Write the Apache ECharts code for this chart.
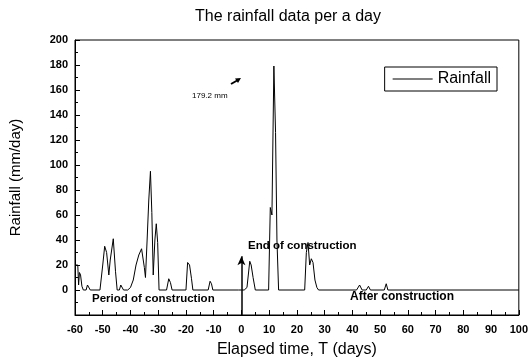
<!DOCTYPE html>
<html>
<head>
<meta charset="utf-8">
<script src="https://cdn.jsdelivr.net/npm/echarts@6/dist/echarts.min.js"></script>
<style>
  html, body { margin: 0; padding: 0; background: #fff; }
  #chart { width: 531px; height: 363px; }
</style>
</head>
<body>
<div id="chart"></div>
<script>
// elapsed time (days) and rainfall (mm/day)
const days = [
  -60, -59, -58.7, -58.4, -58, -57.5, -57, -56, -55.5, -55, -54.5,
  -51, -50, -49.3, -48.6, -47.8, -47.3, -46.2, -45.4, -44.8,
  -44, -43.5, -43, -42.5, -41, -40, -39, -38, -37, -36, -35.6, -35, -34.6,
  -34, -33.4, -32.8, -32.3, -31.8, -31.2, -30.7, -30.2, -29.7,
  -27, -26.2, -25.6, -25, -20, -19.4, -18.7, -18, -17.5,
  -12, -11.3, -10.8, -10.3, -1, 0, 1, 2, 3, 3.5, 4.2, 5, 9.8, 10.4, 11, 11.7, 12.3, 12.8, 13.4,
  22.8, 23.4, 24, 24.6, 25.2, 25.8, 26.5, 27.2, 27.8,
  41.5, 42.6, 43.5, 45, 45.8, 46.5, 51.5, 52.2, 52.8, 100
];
const rainfall = [
  20, 20, 4, 14, 12, 3, 0, 0, 4, 4, 0,
  0, 20, 35, 30, 12, 24, 41, 15, 0,
  0, 4, 5, 0, 0, 2, 8, 20, 28, 33, 34, 18, 10,
  40, 72, 95, 62, 12, 40, 53, 38, 0,
  0, 9, 6, 0, 0, 22, 20, 9, 0,
  0, 7, 5, 0, 0, 0, 0, 2, 23, 20, 10, 0, 0, 66, 60, 179.2, 126, 40, 0,
  0, 30, 38, 20, 25, 22, 8, 2, 0,
  0, 4, 0, 0, 3, 0, 0, 5, 0, 0
];
const xTicks = [-60, -50, -40, -30, -20, -10, 0, 10, 20, 30, 40, 50, 60, 70, 80, 90, 100];
const yTicks = [0, 20, 40, 60, 80, 100, 120, 140, 160, 180, 200];

const font = 'Liberation Sans, Arial, sans-serif';
const chart = echarts.init(document.getElementById('chart'));

chart.setOption({
  animation: false,
  title: {
    text: 'The rainfall data per a day',
    left: 283, top: 4, textAlign: 'center',
    textStyle: { fontFamily: font, fontSize: 16, fontWeight: 'normal', color: '#000' }
  },
  legend: {
    right: 34, top: 67,
    itemWidth: 40, itemHeight: 10, itemGap: 6,
    padding: [4, 6, 4, 8],
    borderColor: '#000', borderWidth: 1,
    icon: 'path://M0,5L40,5L40,6L0,6Z',
    textStyle: { fontFamily: font, fontSize: 16, color: '#000' },
    data: ['Rainfall']
  },
  grid: {
    left: 73, right: 9, top: 40, bottom: 46,
    show: true, borderColor: '#000', borderWidth: 1
  },
  xAxis: {
    type: 'value', min: -60, max: 100, interval: 10,
    name: 'Elapsed time, T (days)', nameLocation: 'middle', nameGap: 27,
    nameTextStyle: { fontFamily: font, fontSize: 16, color: '#000' },
    axisLine: { onZero: false, lineStyle: { color: '#000' } },
    axisTick: { inside: true, length: 5, lineStyle: { color: '#000' } },
    minorTick: { show: true, splitNumber: 2, length: 3, lineStyle: { color: '#000' } },
    splitLine: { show: false },
    axisLabel: {
      fontFamily: font, fontSize: 11, fontWeight: 'bold', color: '#000', margin: 9,
      formatter: v => xTicks.includes(v) ? String(v) : ''
    }
  },
  yAxis: {
    type: 'value', min: -20, max: 200, interval: 20,
    name: 'Rainfall (mm/day)', nameLocation: 'middle', nameGap: 52,
    nameTextStyle: { fontFamily: font, fontSize: 15, color: '#000' },
    axisLine: { show: true, onZero: false, lineStyle: { color: '#000' } },
    axisTick: { inside: true, length: 5, lineStyle: { color: '#000' } },
    minorTick: { show: true, splitNumber: 2, length: 3, lineStyle: { color: '#000' } },
    splitLine: { show: false },
    axisLabel: {
      fontFamily: font, fontSize: 11, fontWeight: 'bold', color: '#000', margin: 7,
      formatter: v => yTicks.includes(v) ? String(v) : ''
    }
  },
  series: [{
    name: 'Rainfall',
    type: 'line',
    data: days.map((d, i) => [d, rainfall[i]]),
    showSymbol: false,
    lineStyle: { color: '#000', width: 1 },
    itemStyle: { color: '#000' },
    markLine: {
      silent: true,
      symbol: ['none', 'arrow'], symbolSize: [6, 9],
      label: { show: false },
      lineStyle: { color: '#000', width: 1.5, type: 'solid' },
      data: [[{ coord: [0, -20] }, { coord: [0, 27] }]]
    }
  }],
  graphic: [
    { type: 'text', left: 248, top: 240,
      style: { text: 'End of construction', font: 'bold 11.5px ' + font, fill: '#000' } },
    { type: 'text', left: 92, top: 293,
      style: { text: 'Period of construction', font: 'bold 11.5px ' + font, fill: '#000' } },
    { type: 'text', left: 350, top: 291,
      style: { text: 'After construction', font: 'bold 12px ' + font, fill: '#000' } },
    { type: 'text', left: 192, top: 92,
      style: { text: '179.2 mm', font: '8px ' + font, fill: '#000' } },
    { type: 'line', shape: { x1: 231, y1: 84, x2: 238, y2: 80 },
      style: { stroke: '#000', lineWidth: 2 } },
    { type: 'polygon', shape: { points: [[241, 78], [235, 78.5], [238, 83]] },
      style: { fill: '#000' } }
  ]
});
</script>
</body>
</html>
